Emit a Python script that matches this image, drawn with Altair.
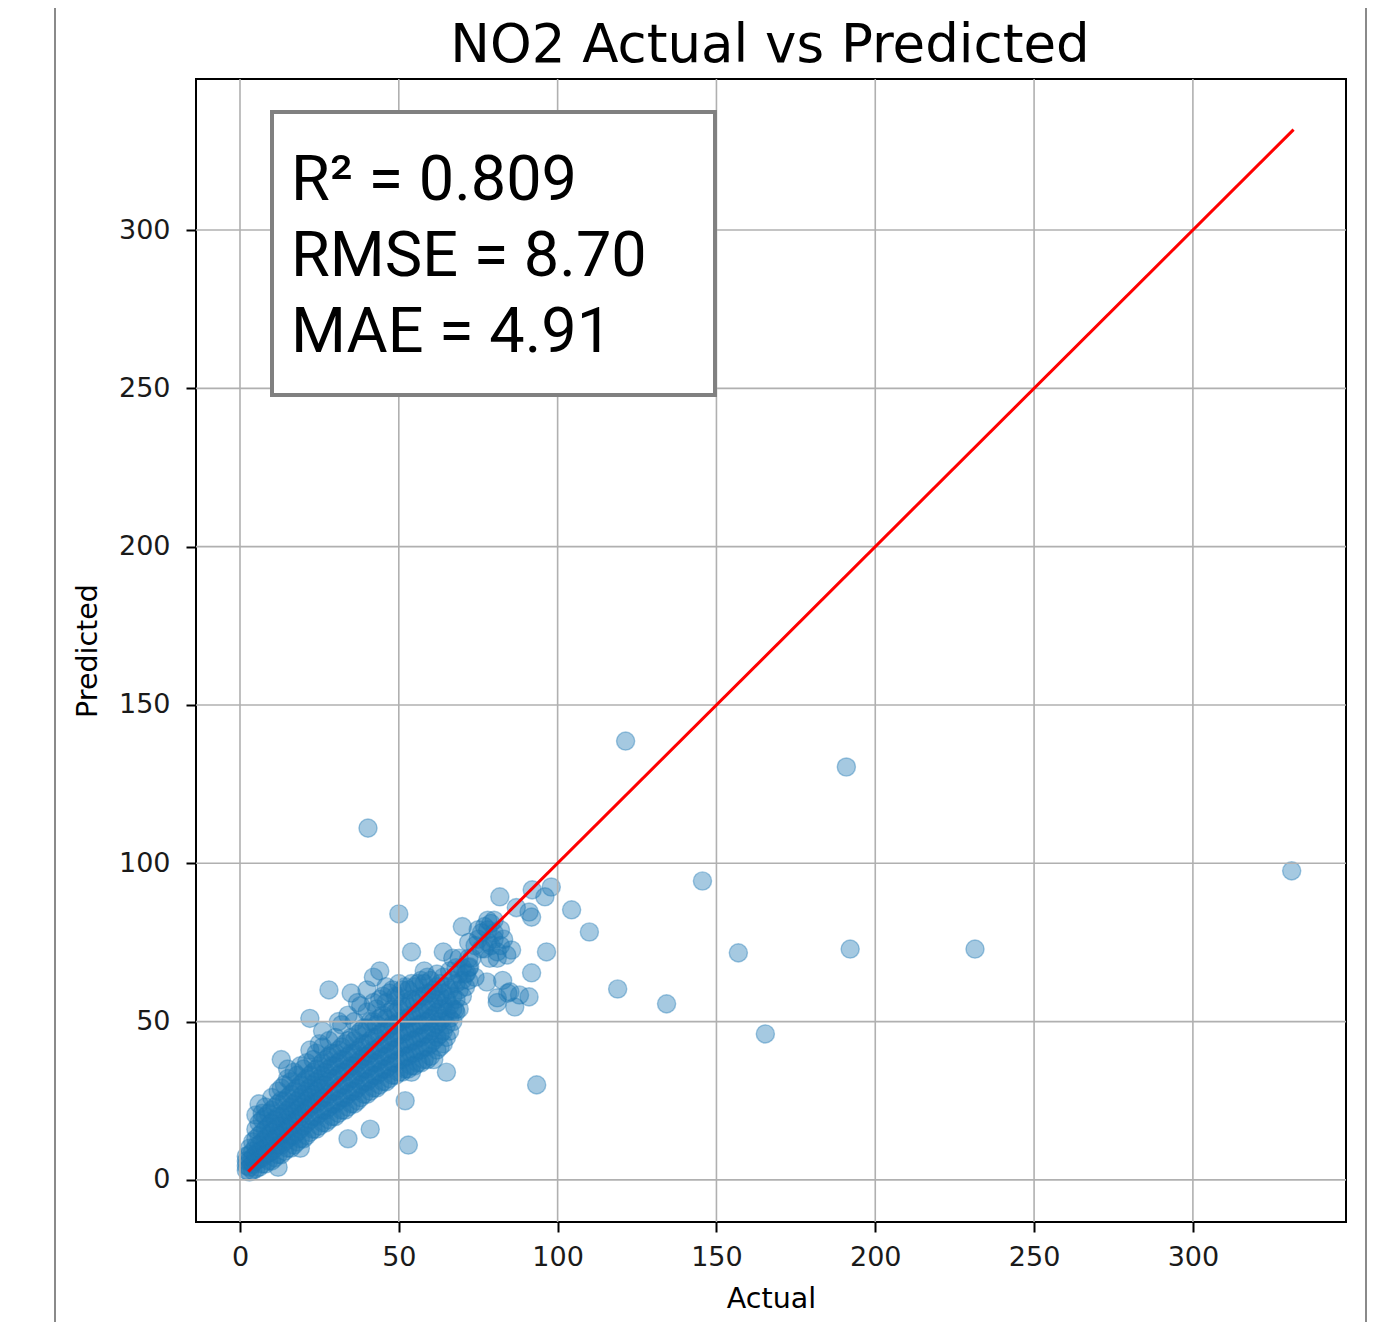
import altair as alt
import pandas as pd

tick_values = [0, 50, 100, 150, 200, 250, 300]

# dense body of the scatter: one entry per Actual value, with the Predicted values read in that column
cluster_actual = list(range(2, 73))
cluster_predicted = [
    [3, 4.5, 6, 7.5],                          # 2
    [2.5, 4, 6, 8, 10],                        # 3
    [3, 5, 7, 9, 12],                          # 4
    [3.5, 6, 8, 10.5, 13, 16, 20.5],           # 5
    [4, 6.5, 9, 11, 14, 18, 24],               # 6
    [5, 7, 9.5, 12, 15, 19, 21],               # 7
    [5, 8, 10, 13, 16, 20, 23],                # 8
    [6, 8.5, 11, 14, 17, 21],                  # 9
    [6, 9, 12, 15, 18, 22, 26],                # 10
    [7, 10, 13, 16, 19, 23],                   # 11
    [4, 8, 11, 14, 17, 20, 24, 28],            # 12
    [8, 11, 14, 17, 20, 25, 29, 38],           # 13
    [9, 12, 15, 18, 21, 25, 30],               # 14
    [10, 13, 16, 19, 22, 26, 32, 35],          # 15
    [10, 14, 17, 20, 23, 27, 31],              # 16
    [11, 14, 18, 21, 24, 28, 34],              # 17
    [12, 15, 19, 22, 25, 29, 33],              # 18
    [10, 13, 16, 20, 23, 26, 30, 36],          # 19
    [13, 17, 21, 24, 27, 31, 35],              # 20
    [14, 18, 22, 25, 28, 32, 37],              # 21
    [15, 19, 23, 26, 29, 33, 41, 51],          # 22
    [16, 20, 24, 27, 30, 34, 38],              # 23
    [16, 20, 24, 28, 31, 35, 40],              # 24
    [17, 21, 25, 29, 32, 36, 43],              # 25
    [18, 22, 26, 30, 33, 37, 42, 47],          # 26
    [18, 22, 26, 30, 34, 38],                  # 27
    [19, 23, 27, 31, 35, 39, 44, 60],          # 28
    [20, 24, 28, 32, 36, 40],                  # 29
    [20, 24, 28, 32, 36, 40, 45],              # 30
    [21, 25, 29, 33, 37, 41, 50],              # 31
    [22, 26, 30, 34, 38, 42, 49],              # 32
    [22, 26, 30, 34, 38, 43],                  # 33
    [13, 23, 27, 31, 35, 39, 44, 52],          # 34
    [24, 28, 32, 36, 40, 45, 59],              # 35
    [24, 28, 32, 36, 40, 44, 50],              # 36
    [25, 29, 33, 37, 41, 46, 56],              # 37
    [26, 30, 34, 38, 42, 47, 55],              # 38
    [27, 31, 35, 39, 43, 48],                  # 39
    [27, 31, 35, 39, 43, 48, 53, 60],          # 40
    [16, 28, 32, 36, 40, 44, 50],              # 41
    [29, 33, 37, 41, 45, 50, 56, 64],          # 42
    [29, 33, 37, 41, 45, 49, 54],              # 43
    [30, 34, 38, 42, 46, 51, 57, 66],          # 44
    [31, 35, 39, 43, 47, 52, 58],              # 45
    [31, 35, 39, 43, 47, 51, 56, 61],          # 46
    [32, 36, 40, 44, 48, 53, 59],              # 47
    [33, 37, 41, 45, 49, 54, 60],              # 48
    [33, 37, 41, 45, 49, 53, 58],              # 49
    [34, 38, 42, 46, 50, 54, 58, 62, 84],      # 50
    [34, 38, 42, 46, 50, 55, 60],              # 51
    [25, 35, 39, 43, 47, 51, 56, 61],          # 52
    [11, 35, 39, 43, 47, 51, 55, 60],          # 53
    [34, 36, 40, 44, 48, 52, 57, 62, 72],      # 54
    [36, 40, 44, 48, 52, 56, 61],              # 55
    [37, 41, 45, 49, 53, 57, 62],              # 56
    [37, 41, 45, 49, 53, 58, 63],              # 57
    [38, 42, 46, 50, 54, 58, 62, 66],          # 58
    [38, 42, 46, 50, 54, 59, 64],              # 59
    [39, 43, 47, 51, 55, 59, 63],              # 60
    [38, 44, 48, 52, 56, 60],                  # 61
    [41, 45, 49, 53, 57, 61, 65],              # 62
    [42, 46, 50, 54, 58, 62],                  # 63
    [43, 47, 51, 55, 59, 64, 72],              # 64
    [34, 45, 49, 53, 57, 61],                  # 65
    [47, 51, 55, 60, 66],                      # 66
    [50, 54, 58, 63, 70],                      # 67
    [53, 57, 62, 67],                          # 68
    [54, 60, 65],                              # 69
    [58, 63, 67, 80],                          # 70
    [61, 65],                                  # 71
    [63, 67, 70],                              # 72
]

# scattered points away from the dense body
outlier_actual = [
    72.3, 71.4, 74, 77.7, 82.7, 84.3, 81, 88, 91, 86.5, 81, 85, 85.5, 78.6,
    81.8, 92, 98, 104.4, 110, 96, 91.8, 96.5, 91.8, 91, 87, 93.4,
    75, 76, 77, 78, 79, 80, 78, 77, 80, 79, 81, 82, 76, 74, 75, 78, 80, 82, 83, 81, 84,
    73, 72, 69, 67.7,
    121.4, 190.9, 331.1, 145.6, 40.3, 156.9, 192.1, 231.4, 118.9, 134.3, 165.4,
]
outlier_predicted = [
    67.3, 65.4, 64, 62.5, 63, 59, 57.5, 58.4, 57.8, 54.6, 56, 59.4, 72.6, 70,
    89.4, 91.6, 92.5, 85.3, 78.3, 89.4, 83, 72, 65.4, 84.6, 86, 30,
    76, 78, 80, 79, 81, 78, 75, 73, 76, 74, 72, 74, 73, 74, 79, 82, 82, 79, 76, 70, 71,
    70, 75, 70, 53.7,
    138.6, 130.4, 97.6, 94.4, 111.1, 71.7, 72.9, 72.9, 60.3, 55.6, 46.1,
]

# y = x reference line, from the smallest to the largest Actual value
line_actual = [2.6, 331.7]
line_predicted = [2.6, 331.7]

metric_labels = ["R² = 0.809", "RMSE = 8.70", "MAE = 4.91"]
chart_title = "NO2 Actual vs Predicted"
x_title = "Actual"
y_title = "Predicted"

rows = []
for a, ps in zip(cluster_actual, cluster_predicted):
    for p in ps:
        rows.append({"actual": a, "predicted": p})
for a, p in zip(outlier_actual, outlier_predicted):
    rows.append({"actual": a, "predicted": p})
points = pd.DataFrame(rows)

BLUE = "#1f77b4"
FONT = "DejaVu Sans"

xscale = alt.Scale(domain=[-13.85, 348.2], nice=False, zero=False)
yscale = alt.Scale(domain=[-13.3, 347.7], nice=False, zero=False)
xaxis = alt.Axis(values=tick_values, title=x_title, labelPadding=12, titlePadding=14)
yaxis = alt.Axis(values=tick_values, title=y_title, labelPadding=16, titlePadding=16)

frame = alt.Chart(pd.DataFrame({"k": [0]})).mark_rect(
    fill="white", fillOpacity=0, stroke="#8a8a8a", strokeWidth=2
).encode(
    x=alt.value(-141), x2=alt.value(1170), y=alt.value(-300), y2=alt.value(1500)
)

scatter = alt.Chart(points).mark_circle(
    size=330, color=BLUE, opacity=1, fillOpacity=0.4,
    stroke=BLUE, strokeOpacity=0.4, strokeWidth=1.4, clip=True
).encode(
    x=alt.X("actual:Q", scale=xscale, axis=xaxis),
    y=alt.Y("predicted:Q", scale=yscale, axis=yaxis),
)

vgrid = alt.Chart(pd.DataFrame({"actual": tick_values})).mark_rule(
    color="#b0b0b0", strokeWidth=1.6
).encode(x=alt.X("actual:Q", scale=xscale, axis=xaxis))

hgrid = alt.Chart(pd.DataFrame({"predicted": tick_values})).mark_rule(
    color="#b0b0b0", strokeWidth=1.6
).encode(y=alt.Y("predicted:Q", scale=yscale, axis=yaxis))

ref_line = alt.Chart(pd.DataFrame({"actual": line_actual, "predicted": line_predicted})).mark_line(
    color="#ff0000", strokeWidth=3
).encode(
    x=alt.X("actual:Q", scale=xscale, axis=xaxis),
    y=alt.Y("predicted:Q", scale=yscale, axis=yaxis),
)

box = alt.Chart(pd.DataFrame({"k": [0]})).mark_rect(
    fill="white", stroke="#808080", strokeWidth=4
).encode(
    x=alt.value(76), x2=alt.value(519), y=alt.value(33), y2=alt.value(316)
)

metrics = alt.Chart(pd.DataFrame({"label": ["\n".join(metric_labels)]})).mark_text(
    align="left", baseline="alphabetic", font="Roboto", fontSize=63,
    lineBreak="\n", lineHeight=76, color="black"
).encode(
    x=alt.value(95), y=alt.value(121), text="label:N"
)

title_text = alt.Chart(pd.DataFrame({"label": [chart_title]})).mark_text(
    align="center", baseline="alphabetic", font=FONT, fontSize=53, color="black"
).encode(
    x=alt.value(574), y=alt.value(-17), text="label:N"
)

chart = alt.layer(frame, scatter, vgrid, hgrid, ref_line, box, metrics, title_text).properties(
    width=1150,
    height=1143,
    autosize=alt.AutoSizeParams(type="none"),
    padding={"left": 188, "top": 71, "right": 40, "bottom": 100},
    background="white",
).configure_view(
    stroke="black", strokeWidth=2
).configure_axis(
    labelFont=FONT, labelFontSize=27, labelColor="#1a1a1a",
    titleFont=FONT, titleFontSize=28.5, titleFontWeight="normal", titleColor="black",
    tickColor="black", tickWidth=2, tickSize=10, domain=False, grid=False
)

chart.save("out.html", embed_options={"renderer": "svg", "actions": False})
